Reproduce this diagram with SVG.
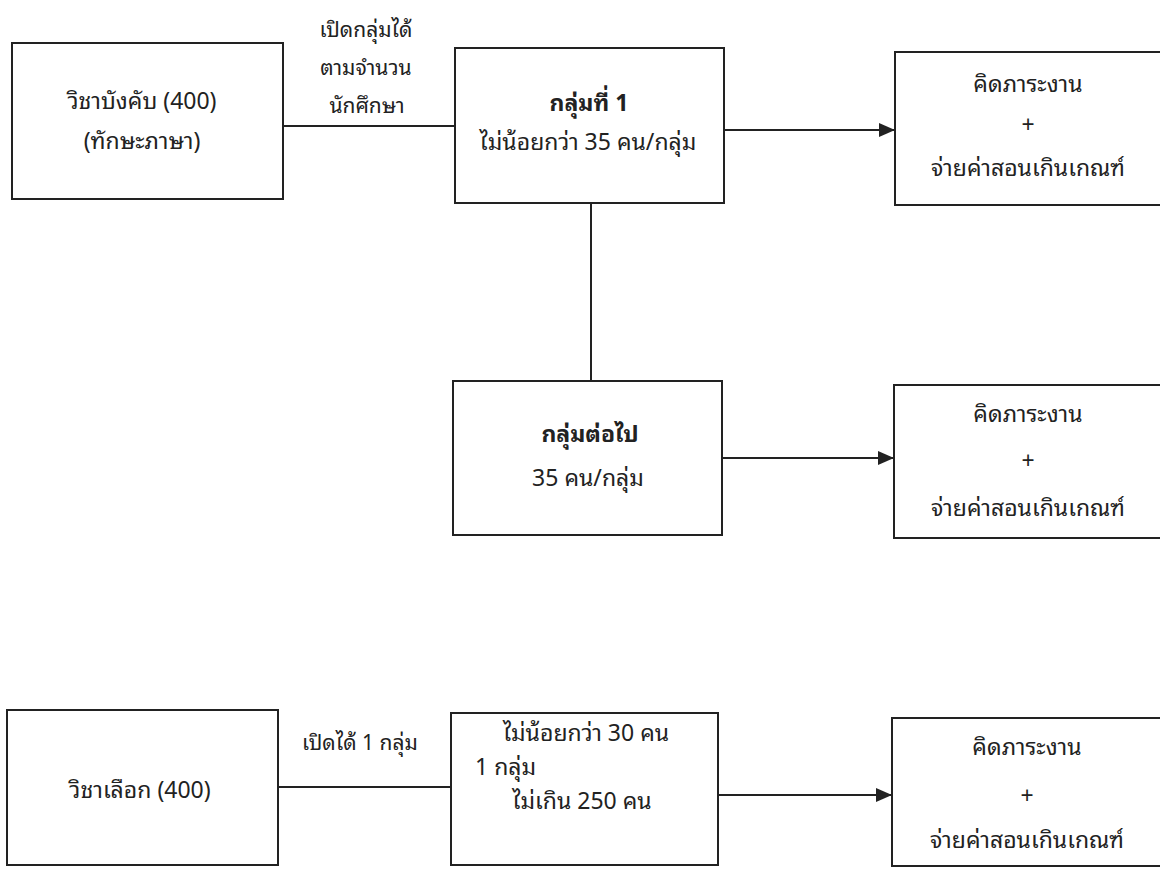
<svg xmlns="http://www.w3.org/2000/svg" width="1160" height="873" viewBox="0 0 1160 873">
<style>
.box{fill:#ffffff;stroke:#222;stroke-width:2}
.ln{fill:none;stroke:#222;stroke-width:2}
text{font-family:"Noto Sans Thai Looped","Noto Sans Thai","Noto Sans","DejaVu Sans",sans-serif;font-size:23px;fill:#222}
.lb{font-size:21px}
.c{text-anchor:middle}
.b{font-weight:bold}
</style>
<defs>
<marker id="arr" markerWidth="16" markerHeight="14" refX="15" refY="7" orient="auto" markerUnits="userSpaceOnUse">
<path d="M0,0 L16,7 L0,14 Z" fill="#222"/>
</marker>
</defs>
<rect width="1160" height="873" fill="#ffffff"/>
<g id="connectors">
<line class="ln" x1="283" y1="126" x2="455" y2="126"/>
<line class="ln" x1="724" y1="130" x2="894" y2="130" marker-end="url(#arr)"/>
<line class="ln" x1="591" y1="203" x2="591" y2="381"/>
<line class="ln" x1="722" y1="458" x2="893" y2="458" marker-end="url(#arr)"/>
<line class="ln" x1="278" y1="787" x2="451" y2="787"/>
<line class="ln" x1="718" y1="795" x2="891" y2="795" marker-end="url(#arr)"/>
<text class="c lb" x="366" y="37">เปิดกลุ่มได้</text>
<text class="c lb" x="366" y="75">ตามจำนวน</text>
<text class="c lb" x="367" y="113">นักศึกษา</text>
<text class="c lb" x="360" y="750">เปิดได้ 1 กลุ่ม</text>
</g>
<g id="n1">
<rect class="box" x="12" y="43" width="271" height="156"/>
<text class="c" x="142" y="109">วิชาบังคับ (400)</text>
<text class="c" x="142" y="149">(ทักษะภาษา)</text>
</g>
<g id="n2">
<rect class="box" x="455" y="48" width="269" height="155"/>
<text class="c b" x="589" y="111">กลุ่มที่ 1</text>
<text class="c" x="588" y="150">ไม่น้อยกว่า 35 คน/กลุ่ม</text>
</g>
<g id="n3">
<rect class="box" x="895" y="52" width="280" height="153"/>
<text class="c" x="1028" y="92">คิดภาระงาน</text>
<text class="c" x="1028" y="133">+</text>
<text class="c" x="1028" y="176">จ่ายค่าสอนเกินเกณฑ์</text>
</g>
<g id="n4">
<rect class="box" x="453" y="381" width="269" height="154"/>
<text class="c b" x="590" y="442">กลุ่มต่อไป</text>
<text class="c" x="588" y="486">35 คน/กลุ่ม</text>
</g>
<g id="n5">
<rect class="box" x="894" y="385" width="280" height="153"/>
<text class="c" x="1028" y="422">คิดภาระงาน</text>
<text class="c" x="1028" y="469">+</text>
<text class="c" x="1028" y="516">จ่ายค่าสอนเกินเกณฑ์</text>
</g>
<g id="n6">
<rect class="box" x="7" y="710" width="271" height="155"/>
<text class="c" x="140" y="798">วิชาเลือก (400)</text>
</g>
<g id="n7">
<rect class="box" x="451" y="713" width="267" height="152"/>
<text class="c" x="586" y="741">ไม่น้อยกว่า 30 คน</text>
<text x="475" y="775">1 กลุ่ม</text>
<text class="c" x="582" y="809">ไม่เกิน 250 คน</text>
</g>
<g id="n8">
<rect class="box" x="892" y="718" width="280" height="148"/>
<text class="c" x="1027" y="755">คิดภาระงาน</text>
<text class="c" x="1027" y="804">+</text>
<text class="c" x="1027" y="848">จ่ายค่าสอนเกินเกณฑ์</text>
</g>
</svg>
